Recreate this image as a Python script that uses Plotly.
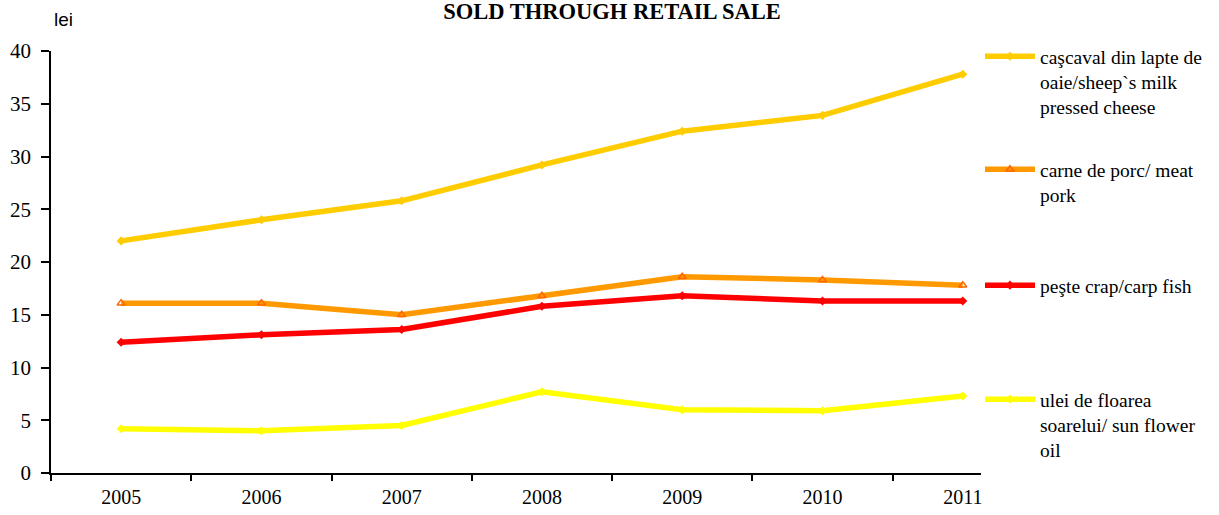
import plotly.graph_objects as go

# Average retail prices, lei per kg / litre
years = ["2005", "2006", "2007", "2008", "2009", "2010", "2011"]
cascaval = [22.0, 24.0, 25.8, 29.2, 32.4, 33.9, 37.8]
carne_porc = [16.1, 16.1, 15.0, 16.8, 18.6, 18.3, 17.8]
peste_crap = [12.4, 13.1, 13.6, 15.8, 16.8, 16.3, 16.3]
ulei_floarea = [4.2, 4.0, 4.5, 7.7, 6.0, 5.9, 7.3]

names = [
    "caşcaval din lapte de<br>oaie/sheep`s milk<br>pressed cheese",
    "carne de porc/ meat<br>pork",
    "peşte crap/carp fish",
    "ulei de floarea<br>soarelui/ sun flower<br>oil",
]
y_ticks = [0, 5, 10, 15, 20, 25, 30, 35, 40]

W, H = 1219, 515
L, R, T, B = 51, 981, 51, 473  # plot area in pixels


def px_to_paper_y(py):
    return (B - py) / (B - T)


def px_to_paper_x(px):
    return (px - L) / (R - L)


serif = "Liberation Serif, Times New Roman, serif"

series = [
    (cascaval, names[0], "#FFCC00", dict(symbol="diamond", size=7, color="#FFCC00"), "legend", 37),
    (carne_porc, names[1], "#FF9900", dict(symbol="triangle-up-open", size=7, color="#FF6600",
                                           line=dict(width=1.5, color="#FF6600")), "legend2", 150),
    (peste_crap, names[2], "#FF0000", dict(symbol="diamond", size=7, color="#FF0000"), "legend3", 266),
    (ulei_floarea, names[3], "#FFFF00", dict(symbol="diamond", size=7, color="#FFFF00"), "legend4", 380),
]

fig = go.Figure()
layout_legends = {}
for vals, name, color, marker, leg, top_px in series:
    fig.add_trace(go.Scatter(
        x=years, y=vals, name=name, mode="lines+markers",
        line=dict(color=color, width=5.5), marker=marker,
        legend=leg, cliponaxis=False,
    ))
    layout_legends[leg] = dict(
        x=px_to_paper_x(980), y=px_to_paper_y(top_px), xanchor="left", yanchor="top",
        bgcolor="rgba(0,0,0,0)", valign="top", itemwidth=50,
        font=dict(family=serif, size=19.5, color="black"),
        tracegroupgap=0,
    )

fig.update_layout(
    width=W, height=H,
    margin=dict(l=L, r=W - R, t=T, b=H - B, pad=0, autoexpand=False),
    paper_bgcolor="white", plot_bgcolor="white",
    font=dict(family=serif, color="black"),
    showlegend=True,
    title=dict(
        text="<b>SOLD THROUGH RETAIL SALE</b>",
        x=px_to_paper_x(612), xref="paper", xanchor="center",
        y=1 - 11 / H, yref="container", yanchor="middle",
        font=dict(family=serif, size=22.5, color="black"),
    ),
    **layout_legends,
)

fig.update_xaxes(
    type="category", categoryorder="array", categoryarray=years,
    range=[-0.5, 6.13], tickson="boundaries",
    ticks="outside", ticklen=6, tickwidth=1.5, tickcolor="black",
    showline=True, linecolor="black", linewidth=1.5,
    showgrid=False, zeroline=False, ticklabelstandoff=5, automargin=False,
    tickfont=dict(family=serif, size=20, color="black"),
)
fig.update_yaxes(
    range=[0, 40], tickvals=y_ticks,
    ticks="outside", ticklen=8, tickwidth=1.5, tickcolor="black",
    showline=True, linecolor="black", linewidth=1.5,
    showgrid=False, zeroline=False, ticklabelstandoff=6, automargin=False,
    tickfont=dict(family=serif, size=21, color="black"),
)

fig.add_annotation(
    text="lei", xref="paper", yref="paper",
    x=px_to_paper_x(52), y=px_to_paper_y(20), xanchor="left", yanchor="middle",
    showarrow=False, font=dict(family="Liberation Sans, Arial, sans-serif", size=19, color="black"),
)

fig.write_html("out.html")
